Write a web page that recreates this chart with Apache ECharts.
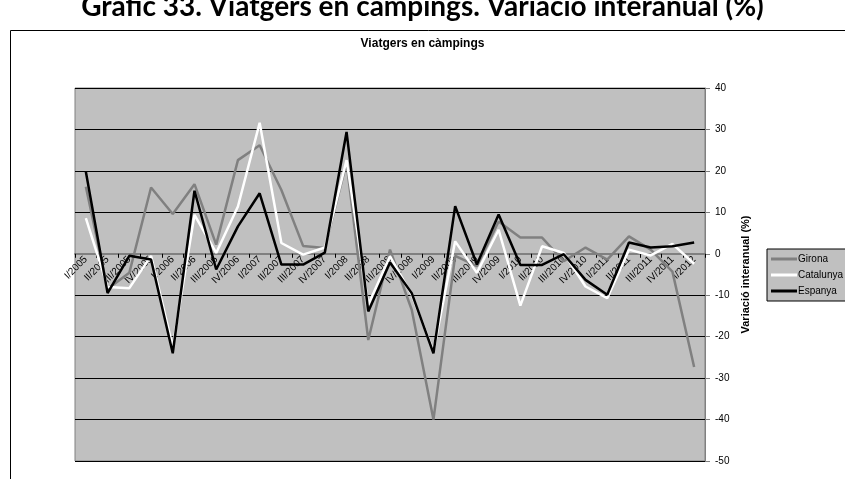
<!DOCTYPE html>
<html><head><meta charset="utf-8">
<script src="https://cdn.jsdelivr.net/npm/echarts@6/dist/echarts.min.js"></script>
<style>html,body{margin:0;padding:0;background:#fff}#c{width:845px;height:479px}</style>
</head><body><div id="c"></div>
<script>
const categories = ['I/2005','II/2005','III/2005','IV/2005','I/2006','II/2006','III/2006','IV/2006','I/2007','II/2007','III/2007','IV/2007','I/2008','II/2008','III/2008','IV/2008','I/2009','II/2009','III/2009','IV/2009','I/2010','II/2010','III/2010','IV/2010','I/2011','II/2011','III/2011','IV/2011','I/2012'];
const girona    = [16.2,-8.5,-4.6,16.0,9.6,16.8,2.2,22.6,26.2,15.4,1.9,1.4,22.0,-20.8,1.0,-13.5,-40.0,-0.5,-3.0,7.8,3.9,3.9,-1.8,1.5,-1.4,4.2,1.0,-4.3,-27.3];
const catalunya = [8.6,-8.0,-8.3,-0.5,-22.5,9.4,0.2,11.4,31.6,2.6,-0.2,1.5,22.6,-12.3,-0.6,-9.9,-23.5,3.0,-4.6,5.8,-12.5,1.8,0.2,-7.9,-10.7,1.0,-0.4,2.4,-2.4];
const espanya   = [19.8,-9.5,-0.5,-1.4,-24.0,15.2,-3.8,6.6,14.6,-2.6,-2.6,0.3,29.4,-13.9,-2.1,-9.5,-24.0,11.5,-2.6,9.5,-2.7,-2.7,-0.1,-6.3,-9.9,2.7,1.5,1.8,2.7];
const yTicks = {min:-50, max:40, interval:10};

const chart = echarts.init(document.getElementById('c'));
const mk = (name, data, color) => ({
  name, type:'line', data, symbol:'none', lineStyle:{color, width:2.5}, itemStyle:{color}
});
const option = {
  animation:false,
  title:[
    {text:'Gràfic 33. Viatgers en càmpings. Variació interanual (%)', left:'center', top:-12,
     textStyle:{fontFamily:'Lato', fontWeight:'bold', fontSize:28, color:'#000'}},
    {text:'Viatgers en càmpings', left:'center', top:33,
     textStyle:{fontFamily:'Liberation Sans', fontWeight:'bold', fontSize:12, color:'#000'}}
  ],
  graphic:[{type:'rect', shape:{x:10.5, y:30.5, width:850, height:460}, style:{fill:null, stroke:'#000', lineWidth:1}, silent:true, z:-1}],
  grid:{left:75, right:140, top:88, bottom:18, outerBoundsMode:'none', containLabel:false, show:true, backgroundColor:'#c0c0c0', borderColor:'#808080', borderWidth:1},
  legend:{orient:'vertical', left:767, top:249, width:80, backgroundColor:'#c0c0c0', borderColor:'#000', borderWidth:1,
    padding:[5,6,5,4], itemGap:6, itemWidth:26, itemHeight:3, icon:'rect',
    textStyle:{fontFamily:'Liberation Sans', fontSize:10, color:'#000', padding:[0,0,0,-4]},
    data:['Girona','Catalunya','Espanya']},
  xAxis:{type:'category', data:categories, boundaryGap:true, offset:0,
    axisLine:{onZero:false, lineStyle:{color:'#808080', width:2}},
    axisTick:{show:true, alignWithLabel:false, length:4, lineStyle:{color:'#000'}},
    axisLabel:{interval:0, rotate:45, fontFamily:'Liberation Sans', fontSize:10, color:'#000', margin:4}},
  yAxis:{type:'value', position:'right', min:yTicks.min, max:yTicks.max, interval:yTicks.interval,
    name:'Variació interanual (%)', nameLocation:'middle', nameGap:33, nameRotate:90,
    nameTextStyle:{fontFamily:'Liberation Sans', fontWeight:'bold', fontSize:11, color:'#000'},
    axisLine:{show:true, lineStyle:{color:'#808080', width:1}},
    axisTick:{show:true, length:5, lineStyle:{color:'#808080'}},
    axisLabel:{fontFamily:'Liberation Sans', fontSize:10, color:'#000', margin:10},
    splitLine:{show:true, lineStyle:{color:'#000', width:1}}},
  series:[mk('Girona', girona, '#808080'), mk('Catalunya', catalunya, '#ffffff'), mk('Espanya', espanya, '#000000')]
};
chart.setOption(option);
// place the category axis on the zero line using the library's own scale
const zeroY = chart.convertToPixel({yAxisIndex:0}, 0);
const bottomY = chart.convertToPixel({yAxisIndex:0}, yTicks.min);
chart.setOption({xAxis:{offset: -(bottomY - zeroY)}});
</script></body></html>
